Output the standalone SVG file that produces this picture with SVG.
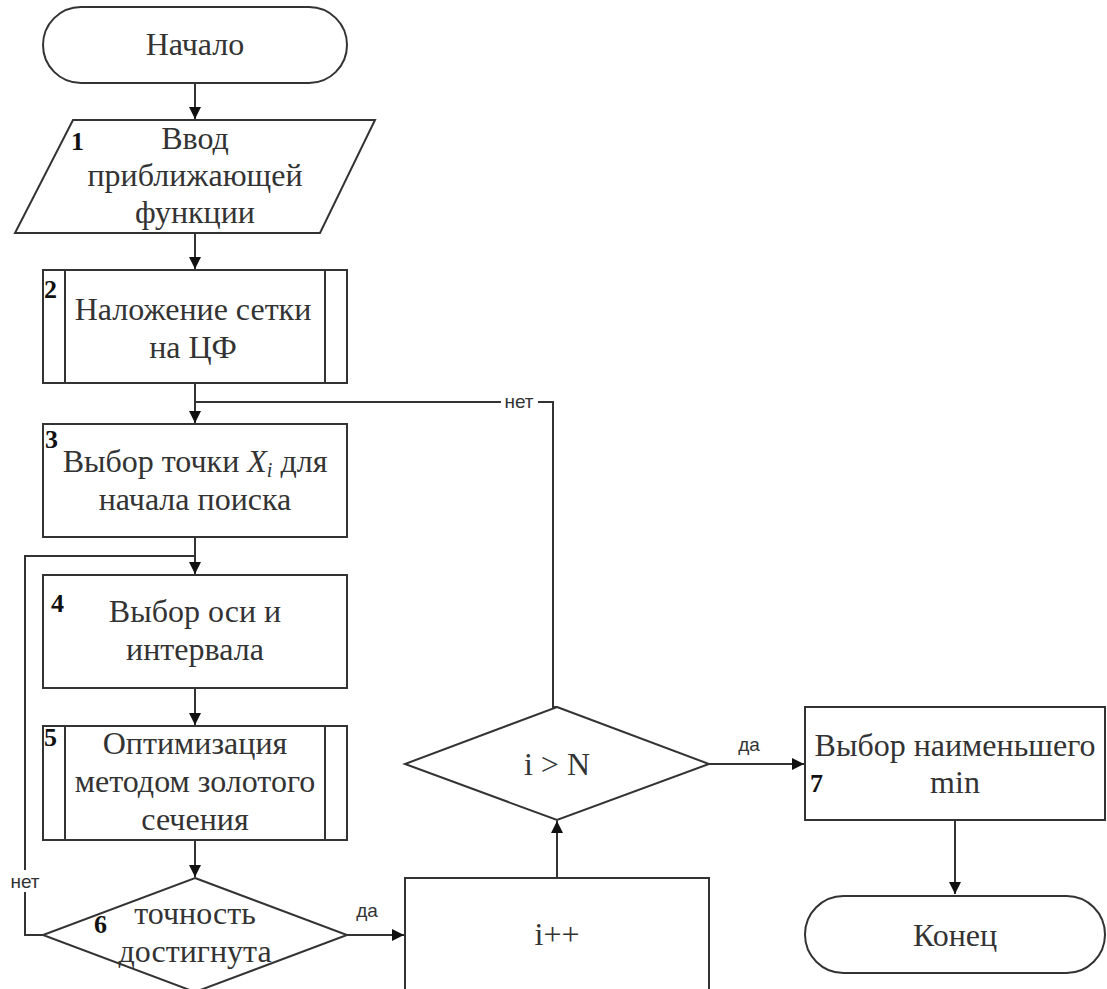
<svg xmlns="http://www.w3.org/2000/svg" width="1107" height="989" viewBox="0 0 1107 989">
<defs>
<marker id="arr" viewBox="0 0 12 12" refX="12" refY="6" markerWidth="12" markerHeight="12" markerUnits="userSpaceOnUse" orient="auto"><path d="M0,0 L12,6 L0,12 z" fill="#111"/></marker>
<style>
.s{fill:#fff;stroke:#333;stroke-width:2}
.t{font-family:"Liberation Serif","Times New Roman",serif;font-size:32px;fill:#333;text-anchor:middle}
.n{font-family:"Liberation Serif","Times New Roman",serif;font-size:26px;font-weight:bold;fill:#111}
.l{font-family:"Liberation Sans",Arial,sans-serif;font-size:19px;fill:#333;text-anchor:middle}
.c{fill:none;stroke:#333;stroke-width:2}
</style>
</defs>
<rect width="1107" height="989" fill="#fff"/>
<g id="connectors">
<line class="c" x1="195" y1="83" x2="195" y2="119" marker-end="url(#arr)"/>
<line class="c" x1="195" y1="233" x2="195" y2="269" marker-end="url(#arr)"/>
<line class="c" x1="195" y1="383" x2="195" y2="423" marker-end="url(#arr)"/>
<polyline class="c" points="557,707 553,707 553,402 195,402"/>
<line class="c" x1="195" y1="537" x2="195" y2="574" marker-end="url(#arr)"/>
<polyline class="c" points="43,935 25,935 25,556 195,556"/>
<line class="c" x1="195" y1="688" x2="195" y2="725" marker-end="url(#arr)"/>
<line class="c" x1="195" y1="840" x2="195" y2="877" marker-end="url(#arr)"/>
<line class="c" x1="347" y1="935" x2="404" y2="935" marker-end="url(#arr)"/>
<line class="c" x1="557" y1="877" x2="557" y2="821" marker-end="url(#arr)"/>
<line class="c" x1="709" y1="764" x2="804" y2="764" marker-end="url(#arr)"/>
<line class="c" x1="955" y1="820" x2="955" y2="894" marker-end="url(#arr)"/>
<rect x="501" y="392" width="37" height="20" fill="#fff"/>
<text class="l" x="519" y="408">нет</text>
<rect x="7" y="870" width="36" height="22" fill="#fff"/>
<text class="l" x="25" y="888">нет</text>
<text class="l" x="367" y="917">да</text>
<text class="l" x="749" y="751">да</text>
</g>
<g id="start">
<rect class="s" x="43" y="7" width="304" height="76" rx="38" ry="38"/>
<text class="t" x="195" y="55">Начало</text>
</g>
<g id="n1">
<polygon class="s" points="73,120 375,120 320,233 15,233"/>
<text class="n" x="71" y="150">1</text>
<text class="t" x="195" y="149">Ввод</text>
<text class="t" x="195" y="186">приближающей</text>
<text class="t" x="195" y="223">функции</text>
</g>
<g id="n2">
<rect class="s" x="43" y="270" width="304" height="113"/>
<line class="c" x1="65" y1="270" x2="65" y2="383"/>
<line class="c" x1="325" y1="270" x2="325" y2="383"/>
<text class="n" x="44" y="298">2</text>
<text class="t" x="193" y="320">Наложение сетки</text>
<text class="t" x="193" y="358">на ЦФ</text>
</g>
<g id="n3">
<rect class="s" x="43" y="424" width="304" height="113"/>
<text class="n" x="45" y="448">3</text>
<text class="t" x="195" y="472">Выбор точки <tspan font-style="italic">X</tspan><tspan font-style="italic" font-size="20" dy="5">i</tspan><tspan dy="-5"> для</tspan></text>
<text class="t" x="195" y="510">начала поиска</text>
</g>
<g id="n4">
<rect class="s" x="43" y="575" width="304" height="113"/>
<text class="n" x="51" y="612">4</text>
<text class="t" x="195" y="622">Выбор оси и</text>
<text class="t" x="195" y="660">интервала</text>
</g>
<g id="n5">
<rect class="s" x="43" y="726" width="304" height="114"/>
<line class="c" x1="65" y1="726" x2="65" y2="840"/>
<line class="c" x1="325" y1="726" x2="325" y2="840"/>
<text class="n" x="44" y="746">5</text>
<text class="t" x="195" y="754">Оптимизация</text>
<text class="t" x="195" y="792">методом золотого</text>
<text class="t" x="195" y="830">сечения</text>
</g>
<g id="n6">
<polygon class="s" points="195,878 347,935 195,992 43,935"/>
<text class="n" x="94" y="933">6</text>
<text class="t" x="195" y="924">точность</text>
<text class="t" x="195" y="962">достигнута</text>
</g>
<g id="inc">
<rect class="s" x="405" y="878" width="304" height="130"/>
<text class="t" x="557" y="945">i++</text>
</g>
<g id="cond">
<polygon class="s" points="557,707 709,764 557,820 405,764"/>
<text class="t" x="557" y="775">i &gt; N</text>
</g>
<g id="n7">
<rect class="s" x="805" y="707" width="300" height="113"/>
<text class="n" x="810" y="792">7</text>
<text class="t" x="955" y="756">Выбор наименьшего</text>
<text class="t" x="955" y="793">min</text>
</g>
<g id="end">
<rect class="s" x="805" y="896" width="300" height="77" rx="38.5" ry="38.5"/>
<text class="t" x="955" y="946">Конец</text>
</g>
</svg>
